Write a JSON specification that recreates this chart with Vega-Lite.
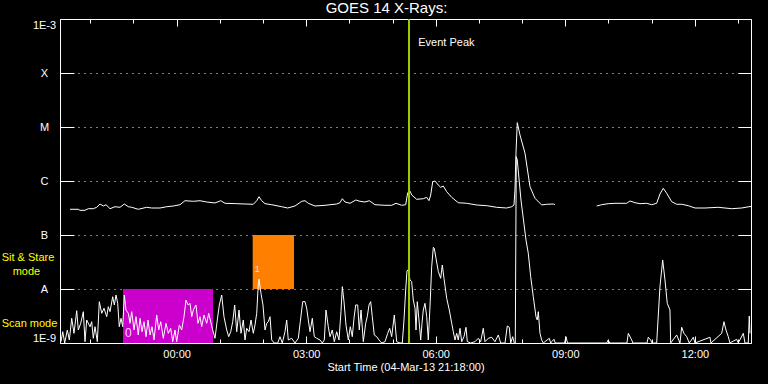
{
  "$schema": "https://vega.github.io/schema/vega-lite/v6.json",
  "width": 691,
  "height": 324,
  "autosize": {"type": "none"},
  "padding": {"left": 60, "top": 19, "right": 17, "bottom": 41},
  "background": "black",
  "config": {
    "view": {"stroke": "white", "strokeWidth": 1},
    "axis": {
      "domain": false,
      "labelFont": "Liberation Sans",
      "labelFontSize": 11,
      "labelColor": "white",
      "titleFont": "Liberation Sans",
      "titleFontSize": 11,
      "titleFontWeight": "normal",
      "titleColor": "white",
      "tickColor": "white",
      "tickWidth": 1
    }
  },
  "title": {
    "text": "GOES 14 X-Rays:",
    "color": "white",
    "font": "Liberation Sans",
    "fontSize": 15,
    "fontWeight": "normal",
    "anchor": "middle",
    "baseline": "bottom",
    "offset": -13,
    "dx": -19
  },
  "datasets": {
    "low": [
      {"t":-2.677,"f":-8.976},{"t":-2.637,"f":-8.791},{"t":-2.591,"f":-9},{"t":-2.531,"f":-8.759},{"t":-2.484,"f":-8.944},
      {"t":-2.429,"f":-8.543},{"t":-2.376,"f":-8.821},{"t":-2.313,"f":-8.402},{"t":-2.276,"f":-8.759},{"t":-2.220,"f":-8.635},
      {"t":-2.160,"f":-8.420},{"t":-2.121,"f":-8.976},{"t":-2.082,"f":-8.574},{"t":-2.005,"f":-8.698},{"t":-1.966,"f":-8.606},
      {"t":-1.929,"f":-8.913},{"t":-1.889,"f":-8.698},{"t":-1.836,"f":-8.976},{"t":-1.790,"f":-8.235},{"t":-1.734,"f":-8.450},
      {"t":-1.681,"f":-8.357},{"t":-1.618,"f":-8.513},{"t":-1.581,"f":-8.328},{"t":-1.542,"f":-8.420},{"t":-1.480,"f":-8.143},
      {"t":-1.442,"f":-8.296},{"t":-1.403,"f":-8.111},{"t":-1.364,"f":-8.265},{"t":-1.327,"f":-8.698},{"t":-1.287,"f":-8.543},
      {"t":-1.248,"f":-8.698},{"t":-1.211,"f":-8.111},{"t":-1.172,"f":-8.389},{"t":-1.118,"f":-8.450},{"t":-1.079,"f":-8.635},
      {"t":-1.040,"f":-8.420},{"t":-0.986,"f":-8.759},{"t":-0.940,"f":-8.513},{"t":-0.887,"f":-8.852},{"t":-0.847,"f":-8.543},
      {"t":-0.801,"f":-8.791},{"t":-0.755,"f":-8.606},{"t":-0.708,"f":-8.883},{"t":-0.662,"f":-8.574},{"t":-0.616,"f":-8.852},
      {"t":-0.570,"f":-8.698},{"t":-0.523,"f":-8.944},{"t":-0.461,"f":-8.481},{"t":-0.414,"f":-8.759},{"t":-0.368,"f":-8.606},
      {"t":-0.308,"f":-8.913},{"t":-0.245,"f":-8.635},{"t":-0.192,"f":-8.821},{"t":-0.137,"f":-8.728},{"t":-0.090,"f":-8.976},
      {"t":-0.037,"f":-8.759},{"t":0.002,"f":-8.976},{"t":0.063,"f":-8.667},{"t":0.118,"f":-8.759},{"t":0.171,"f":-8.513},
      {"t":0.218,"f":-8.204},{"t":0.264,"f":-8.296},{"t":0.310,"f":-8.265},{"t":0.350,"f":-8.513},{"t":0.387,"f":-8.389},
      {"t":0.449,"f":-8.296},{"t":0.495,"f":-8.635},{"t":0.542,"f":-8.513},{"t":0.581,"f":-8.698},{"t":0.634,"f":-8.481},
      {"t":0.697,"f":-8.635},{"t":0.743,"f":-8.450},{"t":0.790,"f":-8.606},{"t":0.836,"f":-8.759},{"t":0.889,"f":-8.913},
      {"t":0.942,"f":-8.574},{"t":0.989,"f":-8.296},{"t":1.044,"f":-8.111},{"t":1.097,"f":-8.513},{"t":1.160,"f":-8.759},
      {"t":1.206,"f":-8.883},{"t":1.253,"f":-8.791},{"t":1.299,"f":-8.606},{"t":1.345,"f":-8.296},{"t":1.392,"f":-8.791},
      {"t":1.445,"f":-8.389},{"t":1.491,"f":-8.821},{"t":1.544,"f":-8.574},{"t":1.584,"f":-8.944},{"t":1.623,"f":-8.728},
      {"t":1.676,"f":-8.791},{"t":1.723,"f":-8.574},{"t":1.776,"f":-8.821},{"t":1.815,"f":-8.667},{"t":1.855,"f":-8.450},
      {"t":1.892,"f":-7.895},{"t":1.908,"f":-7.820},{"t":1.954,"f":-8.080},{"t":2.000,"f":-8.296},{"t":2.047,"f":-8.759},
      {"t":2.086,"f":-8.635},{"t":2.123,"f":-8.606},{"t":2.163,"f":-8.513},{"t":2.202,"f":-8.944},{"t":2.262,"f":-9},
      {"t":2.341,"f":-9},{"t":2.394,"f":-8.883},{"t":2.447,"f":-9},{"t":2.510,"f":-8.791},{"t":2.549,"f":-8.574},
      {"t":2.586,"f":-8.944},{"t":2.665,"f":-8.913},{"t":2.741,"f":-9},{"t":2.818,"f":-8.913},{"t":2.864,"f":-8.606},
      {"t":2.920,"f":-8.235},{"t":2.973,"f":-8.235},{"t":3.012,"f":-8.357},{"t":3.049,"f":-8.574},{"t":3.089,"f":-8.791},
      {"t":3.142,"f":-8.543},{"t":3.188,"f":-8.883},{"t":3.244,"f":-8.913},{"t":3.320,"f":-8.944},{"t":3.374,"f":-9},
      {"t":3.420,"f":-8.944},{"t":3.459,"f":-8.389},{"t":3.512,"f":-8.698},{"t":3.552,"f":-8.883},{"t":3.605,"f":-8.759},
      {"t":3.651,"f":-8.976},{"t":3.707,"f":-8.791},{"t":3.760,"f":-8.944},{"t":3.806,"f":-8.420},{"t":3.837,"f":-7.957},
      {"t":3.876,"f":-8.235},{"t":3.922,"f":-8.667},{"t":3.976,"f":-8.944},{"t":4.022,"f":-8.698},{"t":4.068,"f":-8.883},
      {"t":4.107,"f":-8.543},{"t":4.147,"f":-8.296},{"t":4.193,"f":-8.296},{"t":4.230,"f":-8.759},{"t":4.270,"f":-8.389},
      {"t":4.323,"f":-8.976},{"t":4.378,"f":-8.635},{"t":4.415,"f":-8.513},{"t":4.455,"f":-8.296},{"t":4.494,"f":-8.235},
      {"t":4.531,"f":-8.513},{"t":4.577,"f":-8.852},{"t":4.633,"f":-8.883},{"t":4.686,"f":-8.944},{"t":4.749,"f":-9},
      {"t":4.825,"f":-8.976},{"t":4.888,"f":-8.821},{"t":4.934,"f":-8.728},{"t":4.980,"f":-8.883},{"t":5.041,"f":-8.481},
      {"t":5.096,"f":-8.976},{"t":5.173,"f":-9},{"t":5.226,"f":-9},{"t":5.265,"f":-8.574},{"t":5.304,"f":-8.019},
      {"t":5.335,"f":-7.661},{"t":5.365,"f":-7.648},{"t":5.404,"f":-7.833},{"t":5.443,"f":-7.865},{"t":5.480,"f":-8.204},
      {"t":5.520,"f":-8.357},{"t":5.543,"f":-8.759},{"t":5.573,"f":-8.235},{"t":5.612,"f":-8.574},{"t":5.652,"f":-8.944},
      {"t":5.682,"f":-8.635},{"t":5.712,"f":-8.389},{"t":5.751,"f":-8.265},{"t":5.791,"f":-8.513},{"t":5.828,"f":-8.944},
      {"t":5.867,"f":-8.328},{"t":5.906,"f":-7.587},{"t":5.944,"f":-7.228},{"t":5.967,"f":-7.246},{"t":6.006,"f":-7.432},
      {"t":6.059,"f":-7.673},{"t":6.115,"f":-7.802},{"t":6.152,"f":-7.556},{"t":6.191,"f":-7.802},{"t":6.254,"f":-8.172},
      {"t":6.314,"f":-8.389},{"t":6.370,"f":-8.635},{"t":6.407,"f":-8.791},{"t":6.446,"f":-8.944},{"t":6.485,"f":-8.821},
      {"t":6.522,"f":-8.944},{"t":6.562,"f":-8.728},{"t":6.601,"f":-8.976},{"t":6.654,"f":-8.883},{"t":6.701,"f":-8.709},
      {"t":6.731,"f":-8.976},{"t":6.809,"f":-9},{"t":6.909,"f":-8.976},{"t":6.985,"f":-8.913},{"t":7.040,"f":-8.976},
      {"t":7.101,"f":-8.728},{"t":7.140,"f":-8.976},{"t":7.217,"f":-8.913},{"t":7.296,"f":-8.894},{"t":7.372,"f":-8.976},
      {"t":7.449,"f":-8.852},{"t":7.504,"f":-9},{"t":7.604,"f":-9},{"t":7.657,"f":-8.685},{"t":7.703,"f":-8.709},
      {"t":7.736,"f":-9},{"t":7.782,"f":-8.883},{"t":7.819,"f":-9},{"t":7.842,"f":-9},{"t":7.865,"f":-5.550},
      {"t":7.888,"f":-5.611},{"t":7.974,"f":-6.352},{"t":8.090,"f":-7.093},{"t":8.143,"f":-7.339},{"t":8.199,"f":-7.772},
      {"t":8.259,"f":-8.143},{"t":8.321,"f":-8.513},{"t":8.351,"f":-8.574},{"t":8.375,"f":-8.420},{"t":8.414,"f":-8.821},
      {"t":8.453,"f":-8.944},{"t":8.491,"f":-9},{"t":8.629,"f":-8.913},{"t":8.662,"f":-9},{"t":8.685,"f":-8.976},
      {"t":8.738,"f":-8.931},{"t":8.768,"f":-9},{"t":8.981,"f":-9},{"t":9.016,"f":-8.883},{"t":9.051,"f":-9},
      {"t":9.958,"f":-9},{"t":9.995,"f":-8.944},{"t":10.028,"f":-9},{"t":10.428,"f":-9},{"t":10.459,"f":-8.821},
      {"t":10.537,"f":-8.944},{"t":10.567,"f":-9},{"t":10.891,"f":-9},{"t":10.922,"f":-8.894},{"t":10.977,"f":-8.944},
      {"t":11.007,"f":-9},{"t":11.116,"f":-9},{"t":11.192,"f":-7.957},{"t":11.255,"f":-7.463},{"t":11.308,"f":-7.833},
      {"t":11.361,"f":-8.265},{"t":11.424,"f":-8.389},{"t":11.440,"f":-9},{"t":11.579,"f":-8.852},{"t":11.655,"f":-9},
      {"t":11.695,"f":-8.709},{"t":11.748,"f":-8.821},{"t":11.811,"f":-8.883},{"t":11.871,"f":-9},{"t":11.964,"f":-8.894},
      {"t":12.003,"f":-9},{"t":12.350,"f":-8.894},{"t":12.373,"f":-9},{"t":12.621,"f":-8.821},{"t":12.674,"f":-8.606},
      {"t":12.721,"f":-8.759},{"t":12.774,"f":-8.883},{"t":12.813,"f":-9},{"t":12.968,"f":-8.931},{"t":13.006,"f":-9},
      {"t":13.121,"f":-8.821},{"t":13.161,"f":-9},{"t":13.237,"f":-9},{"t":13.260,"f":-8.500},{"t":13.276,"f":-8.821}
    ],
    "high": [
      {"t":-2.468,"f":-6.524,"seg":1},{"t":-2.276,"f":-6.524,"seg":1},{"t":-2.237,"f":-6.543,"seg":1},{"t":-2.121,"f":-6.543,"seg":1},
      {"t":-2.044,"f":-6.513,"seg":1},{"t":-1.929,"f":-6.513,"seg":1},{"t":-1.850,"f":-6.487,"seg":1},{"t":-1.774,"f":-6.426,"seg":1},
      {"t":-1.697,"f":-6.463,"seg":1},{"t":-1.635,"f":-6.439,"seg":1},{"t":-1.542,"f":-6.513,"seg":1},{"t":-1.426,"f":-6.476,"seg":1},
      {"t":-1.310,"f":-6.487,"seg":1},{"t":-1.211,"f":-6.426,"seg":1},{"t":-1.118,"f":-6.476,"seg":1},{"t":-1.040,"f":-6.487,"seg":1},
      {"t":-0.887,"f":-6.524,"seg":1},{"t":-0.692,"f":-6.487,"seg":1},{"t":-0.577,"f":-6.500,"seg":1},{"t":-0.384,"f":-6.500,"seg":1},
      {"t":-0.229,"f":-6.476,"seg":1},{"t":-0.076,"f":-6.463,"seg":1},{"t":0.079,"f":-6.439,"seg":1},{"t":0.194,"f":-6.365,"seg":1},
      {"t":0.387,"f":-6.376,"seg":1},{"t":0.542,"f":-6.365,"seg":1},{"t":0.697,"f":-6.389,"seg":1},{"t":0.889,"f":-6.407,"seg":1},
      {"t":1.021,"f":-6.365,"seg":1},{"t":1.121,"f":-6.413,"seg":1},{"t":1.392,"f":-6.420,"seg":1},{"t":1.584,"f":-6.426,"seg":1},
      {"t":1.776,"f":-6.431,"seg":1},{"t":1.855,"f":-6.365,"seg":1},{"t":1.908,"f":-6.291,"seg":1},{"t":1.970,"f":-6.365,"seg":1},
      {"t":2.047,"f":-6.420,"seg":1},{"t":2.202,"f":-6.439,"seg":1},{"t":2.433,"f":-6.476,"seg":1},{"t":2.572,"f":-6.500,"seg":1},
      {"t":2.741,"f":-6.463,"seg":1},{"t":2.897,"f":-6.376,"seg":1},{"t":2.973,"f":-6.365,"seg":1},{"t":3.049,"f":-6.413,"seg":1},
      {"t":3.204,"f":-6.463,"seg":1},{"t":3.436,"f":-6.450,"seg":1},{"t":3.707,"f":-6.426,"seg":1},{"t":3.783,"f":-6.402,"seg":1},
      {"t":3.837,"f":-6.328,"seg":1},{"t":3.899,"f":-6.389,"seg":1},{"t":4.015,"f":-6.413,"seg":1},{"t":4.147,"f":-6.352,"seg":1},
      {"t":4.246,"f":-6.376,"seg":1},{"t":4.362,"f":-6.389,"seg":1},{"t":4.462,"f":-6.365,"seg":1},{"t":4.594,"f":-6.439,"seg":1},
      {"t":4.825,"f":-6.450,"seg":1},{"t":4.980,"f":-6.450,"seg":1},{"t":5.080,"f":-6.413,"seg":1},{"t":5.212,"f":-6.450,"seg":1},
      {"t":5.304,"f":-6.439,"seg":1},{"t":5.351,"f":-6.217,"seg":1},{"t":5.404,"f":-6.185,"seg":1},{"t":5.443,"f":-6.259,"seg":1},
      {"t":5.559,"f":-6.339,"seg":1},{"t":5.712,"f":-6.328,"seg":1},{"t":5.791,"f":-6.302,"seg":1},{"t":5.844,"f":-6.365,"seg":1},
      {"t":5.883,"f":-6.259,"seg":1},{"t":5.930,"f":-6.013,"seg":1},{"t":5.983,"f":-6.000,"seg":1},{"t":6.059,"f":-6.074,"seg":1},
      {"t":6.115,"f":-6.117,"seg":1},{"t":6.175,"f":-6.093,"seg":1},{"t":6.254,"f":-6.198,"seg":1},{"t":6.370,"f":-6.302,"seg":1},
      {"t":6.522,"f":-6.402,"seg":1},{"t":6.717,"f":-6.413,"seg":1},{"t":6.948,"f":-6.444,"seg":1},{"t":7.180,"f":-6.457,"seg":1},
      {"t":7.411,"f":-6.487,"seg":1},{"t":7.643,"f":-6.500,"seg":1},{"t":7.759,"f":-6.476,"seg":1},{"t":7.812,"f":-6.444,"seg":1},
      {"t":7.835,"f":-6.167,"seg":1},{"t":7.858,"f":-5.487,"seg":1},{"t":7.888,"f":-4.920,"seg":1},{"t":7.951,"f":-5.148,"seg":1},
      {"t":8.067,"f":-5.487,"seg":1},{"t":8.183,"f":-6.106,"seg":1},{"t":8.298,"f":-6.320,"seg":1},{"t":8.453,"f":-6.444,"seg":1},
      {"t":8.569,"f":-6.431,"seg":1},{"t":8.722,"f":-6.426,"seg":1},{"t":8.761,"f":-6.435,"seg":1},
      {"t":9.727,"f":-6.463,"seg":2},{"t":9.843,"f":-6.439,"seg":2},{"t":9.995,"f":-6.420,"seg":2},{"t":10.151,"f":-6.413,"seg":2},
      {"t":10.421,"f":-6.413,"seg":2},{"t":10.498,"f":-6.370,"seg":2},{"t":10.614,"f":-6.402,"seg":2},{"t":10.729,"f":-6.420,"seg":2},
      {"t":10.884,"f":-6.413,"seg":2},{"t":11.000,"f":-6.439,"seg":2},{"t":11.116,"f":-6.413,"seg":2},{"t":11.192,"f":-6.241,"seg":2},
      {"t":11.269,"f":-6.135,"seg":2},{"t":11.348,"f":-6.228,"seg":2},{"t":11.463,"f":-6.383,"seg":2},{"t":11.579,"f":-6.431,"seg":2},
      {"t":11.695,"f":-6.431,"seg":2},{"t":11.848,"f":-6.457,"seg":2},{"t":12.003,"f":-6.500,"seg":2},{"t":12.234,"f":-6.500,"seg":2},
      {"t":12.542,"f":-6.487,"seg":2},{"t":12.853,"f":-6.513,"seg":2},{"t":13.084,"f":-6.500,"seg":2},{"t":13.253,"f":-6.476,"seg":2},
      {"t":13.300,"f":-6.472,"seg":2}
    ],
    "boxes": [
      {"t1":-1.241,"t2":0.843,"f1":-9,"f2":-8,"mode":"Scan mode"},
      {"t1":1.762,"t2":2.718,"f1":-8,"f2":-7,"mode":"Sit & Stare mode"}
    ],
    "ids": [
      {"t":-1.118,"f":-8.815,"id":"0","size":12},
      {"t":1.868,"f":-7.624,"id":"1","size":9}
    ],
    "modes": [
      {"t":-4.05,"f":-7.435,"label":"Sit & Stare"},
      {"t":-3.795,"f":-7.676,"label":"mode"},
      {"t":-4.05,"f":-8.648,"label":"Scan mode"}
    ],
    "event": [{"t":5.381,"f":-3.45,"label":"Event Peak","lt":5.596}]
  },
  "layer": [
    {
      "data": {"name": "boxes"},
      "mark": {"type": "rect"},
      "encoding": {
        "x": {"field": "t1", "type": "quantitative", "scale": {"domain": [-2.7, 13.3], "nice": false, "zero": false}, "axis": null},
        "x2": {"field": "t2"},
        "y": {"field": "f1", "type": "quantitative", "scale": {"domain": [-9, -3], "nice": false, "zero": false}, "axis": null},
        "y2": {"field": "f2"},
        "color": {"field": "mode", "type": "nominal", "scale": {"domain": ["Scan mode", "Sit & Stare mode"], "range": ["#cc00cc", "#ff8000"]}, "legend": null}
      }
    },
    {
      "data": {"name": "ids"},
      "mark": {"type": "text", "color": "#ffd8ff", "font": "Liberation Sans", "align": "center", "baseline": "middle"},
      "encoding": {
        "x": {"field": "t", "type": "quantitative", "scale": {"domain": [-2.7, 13.3], "nice": false, "zero": false}, "axis": null},
        "y": {"field": "f", "type": "quantitative", "scale": {"domain": [-9, -3], "nice": false, "zero": false}, "axis": null},
        "text": {"field": "id"},
        "size": {"field": "size", "type": "quantitative", "scale": null}
      }
    },
    {
      "data": {"name": "low"},
      "mark": {"type": "line", "color": "white", "strokeWidth": 1, "clip": true},
      "encoding": {
        "x": {
          "field": "t", "type": "quantitative",
          "scale": {"domain": [-2.7, 13.3], "nice": false, "zero": false},
          "axis": {
            "orient": "bottom",
            "values": [-2, -1, 0, 1, 2, 3, 4, 5, 6, 7, 8, 9, 10, 11, 12, 13],
            "labelExpr": "datum.value % 3 === 0 ? ((datum.value < 10 ? '0' : '') + datum.value + ':00') : ''",
            "tickSize": {"condition": {"test": "datum.value % 3 === 0", "value": -7}, "value": -4},
            "labelPadding": 12,
            "labelFlush": false,
            "labelOverlap": false,
            "grid": false,
            "title": "Start Time (04-Mar-13 21:18:00)",
            "titlePadding": -1
          }
        },
        "y": {
          "field": "f", "type": "quantitative",
          "scale": {"domain": [-9, -3], "nice": false, "zero": false},
          "axis": {
            "orient": "left",
            "values": [-9, -8, -7, -6, -5, -4, -3],
            "labelExpr": "datum.value == -3 ? '1E-3' : datum.value == -4 ? 'X' : datum.value == -5 ? 'M' : datum.value == -6 ? 'C' : datum.value == -7 ? 'B' : datum.value == -8 ? 'A' : '1E-9'",
            "tickSize": -14,
            "labelAlign": "center",
            "labelPadding": 30,
            "labelFlush": true,
            "labelOverlap": false,
            "grid": true,
            "gridColor": "white",
            "gridDash": [1, 5],
            "gridWidth": 1,
            "title": null
          }
        }
      }
    },
    {
      "data": {"name": "high"},
      "mark": {"type": "line", "color": "white", "strokeWidth": 1, "clip": true},
      "encoding": {
        "x": {
          "field": "t", "type": "quantitative",
          "scale": {"domain": [-2.7, 13.3], "nice": false, "zero": false},
          "axis": {
            "orient": "top",
            "values": [-2, -1, 0, 1, 2, 3, 4, 5, 6, 7, 8, 9, 10, 11, 12, 13],
            "labels": false,
            "tickSize": {"condition": {"test": "datum.value % 3 === 0", "value": -7}, "value": -4},
            "grid": false,
            "title": null
          }
        },
        "y": {
          "field": "f", "type": "quantitative",
          "scale": {"domain": [-9, -3], "nice": false, "zero": false},
          "axis": {
            "orient": "right",
            "values": [-8, -7, -6, -5, -4],
            "labels": false,
            "tickSize": -13,
            "grid": false,
            "title": null
          }
        },
        "detail": {"field": "seg", "type": "nominal"}
      }
    },
    {
      "data": {"name": "event"},
      "mark": {"type": "rule", "color": "#99cc00", "strokeWidth": 2},
      "encoding": {
        "x": {"field": "t", "type": "quantitative", "scale": {"domain": [-2.7, 13.3], "nice": false, "zero": false}, "axis": null}
      }
    },
    {
      "data": {"name": "event"},
      "mark": {"type": "text", "color": "white", "font": "Liberation Sans", "fontSize": 11, "align": "left", "baseline": "middle"},
      "encoding": {
        "x": {"field": "lt", "type": "quantitative", "scale": {"domain": [-2.7, 13.3], "nice": false, "zero": false}, "axis": null},
        "y": {"field": "f", "type": "quantitative", "scale": {"domain": [-9, -3], "nice": false, "zero": false}, "axis": null},
        "text": {"field": "label"}
      }
    },
    {
      "data": {"name": "modes"},
      "mark": {"type": "text", "color": "#ffff00", "font": "Liberation Sans", "fontSize": 11, "align": "left", "baseline": "middle"},
      "encoding": {
        "x": {"field": "t", "type": "quantitative", "scale": {"domain": [-2.7, 13.3], "nice": false, "zero": false}, "axis": null},
        "y": {"field": "f", "type": "quantitative", "scale": {"domain": [-9, -3], "nice": false, "zero": false}, "axis": null},
        "text": {"field": "label"}
      }
    }
  ],
  "resolve": {"axis": {"x": "independent", "y": "independent"}}
}
